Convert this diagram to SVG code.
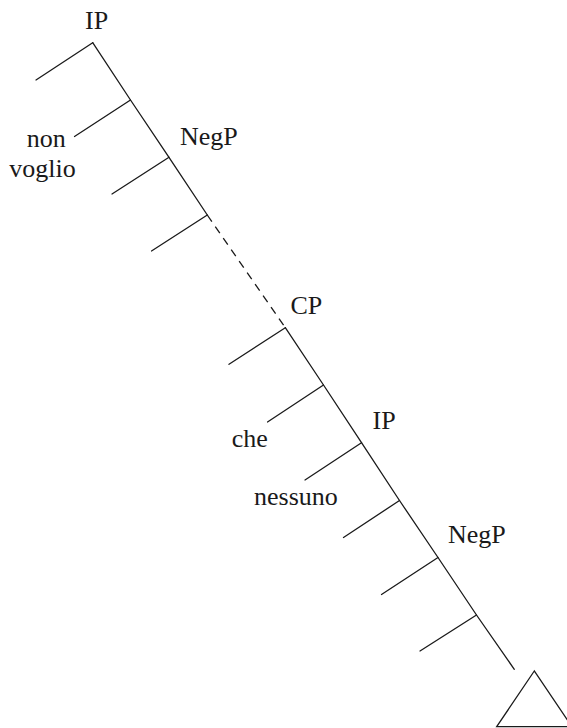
<svg xmlns="http://www.w3.org/2000/svg" width="567" height="728" viewBox="0 0 567 728">
<style>
.t{font-family:"Liberation Serif","Times New Roman",serif;font-size:26px;fill:#1a1a1a}
.l{stroke:#1a1a1a;stroke-width:1.3;fill:none;stroke-linecap:round}
.d{stroke-dasharray:8 6;stroke-linecap:butt}
</style>
<rect width="567" height="728" fill="#fff"/>
<g id="connectors">
<polyline class="l" points="92.7,42.7 130.5,100 169,157.3 207.3,215"/>
<line class="l d" x1="207.3" y1="215" x2="285.3" y2="327.7"/>
<polyline class="l" points="285.3,327.7 323.5,385 361.5,442.7 399.5,500.5 438,557.5 476.5,615 514.3,669.3"/>
<line class="l" x1="92.7" y1="42.7" x2="36" y2="80"/>
<line class="l" x1="130.5" y1="100" x2="74.5" y2="136.5"/>
<line class="l" x1="169" y1="157.3" x2="112" y2="194"/>
<line class="l" x1="207.3" y1="215" x2="151.5" y2="251"/>
<line class="l" x1="285.3" y1="327.7" x2="229" y2="364.3"/>
<line class="l" x1="323.5" y1="385" x2="267.5" y2="422"/>
<line class="l" x1="361.5" y1="442.7" x2="305" y2="480"/>
<line class="l" x1="399.5" y1="500.5" x2="343.5" y2="537.5"/>
<line class="l" x1="438" y1="557.5" x2="381.5" y2="594.5"/>
<line class="l" x1="476.5" y1="615" x2="420" y2="651"/>
</g>
<g id="ip-top"><text class="t" x="85" y="29.3">IP</text></g>
<g id="non"><text class="t" x="26.7" y="146.7">non</text></g>
<g id="voglio"><text class="t" x="9.3" y="176.7">voglio</text></g>
<g id="negp-top"><text class="t" x="180" y="145">NegP</text></g>
<g id="cp"><text class="t" x="290.5" y="314">CP</text></g>
<g id="che"><text class="t" x="231.7" y="446.7">che</text></g>
<g id="ip-low"><text class="t" x="372.5" y="428.5">IP</text></g>
<g id="nessuno"><text class="t" x="254" y="505">nessuno</text></g>
<g id="negp-low"><text class="t" x="448" y="543">NegP</text></g>
<g id="triangle"><polygon class="l" points="534.3,671 496.7,726.7 572,726.7"/></g>
</svg>
